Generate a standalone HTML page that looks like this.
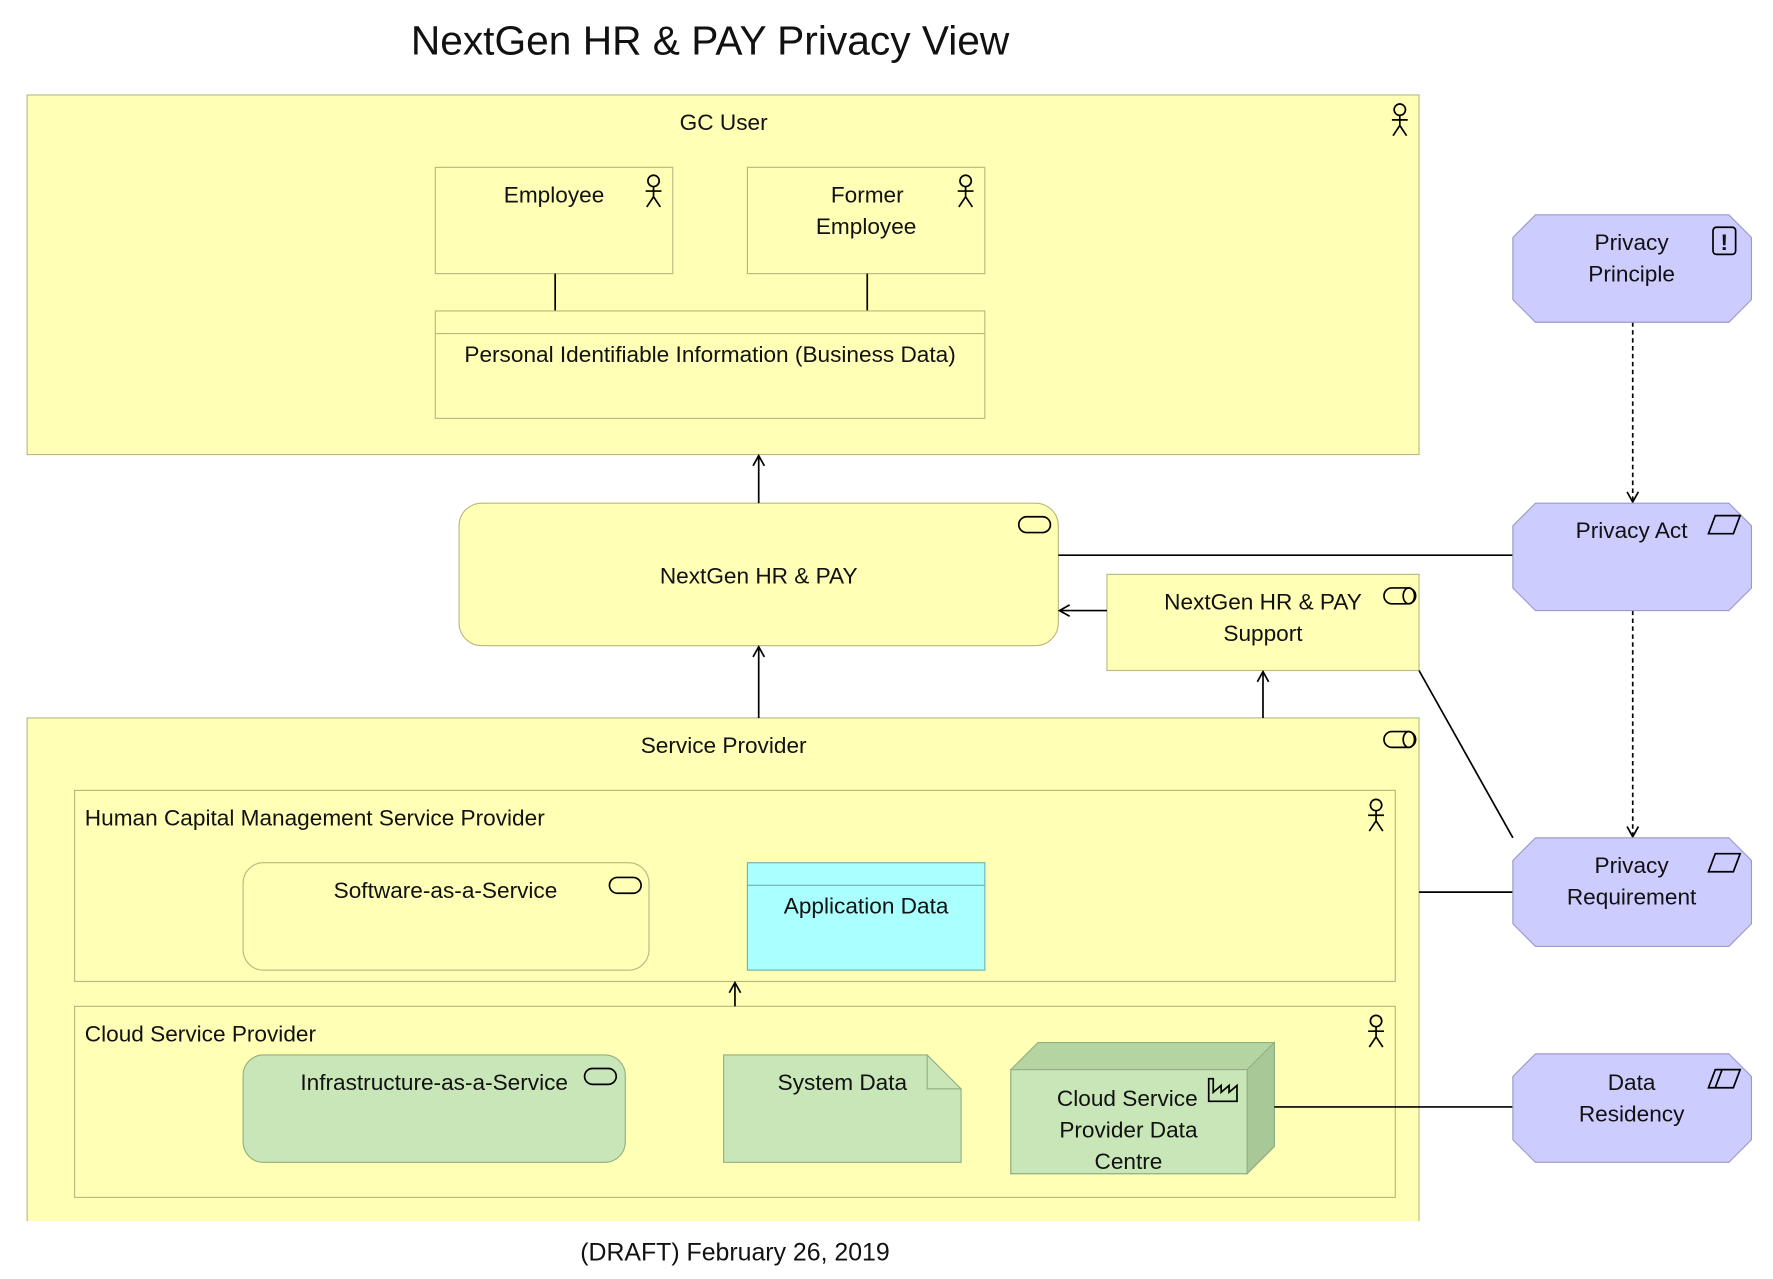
<!DOCTYPE html>
<html><head><meta charset="utf-8"><style>
html,body{margin:0;padding:0;background:#fff;width:1773px;height:1279px;overflow:hidden}
#c{width:1568px;height:1131px;transform:scale(1.1307);transform-origin:0 0}
text{font-family:"Liberation Sans","DejaVu Sans",sans-serif;font-size:20px;fill:#111}
</style></head><body><div id="c">
<svg width="1568" height="1131" viewBox="0 0 1568 1131" xmlns="http://www.w3.org/2000/svg">
<defs>
<marker id="a" markerWidth="12" markerHeight="12" refX="10" refY="6" orient="auto" markerUnits="userSpaceOnUse"><path d="M1,1 L10,6 L1,11" fill="none" stroke="#000" stroke-width="1.5"/></marker>
<g id="actor" fill="none" stroke="#000" stroke-width="1.5"><circle cx="0" cy="-8" r="5"/><path d="M0,-3 V6 M-7,1 H7 M-6,15 L0,6 L6,15"/></g>
<g id="svc" fill="none" stroke="#000" stroke-width="1.5"><rect x="-14" y="-7" width="28" height="14" rx="7"/></g>
<g id="iface" fill="none" stroke="#000" stroke-width="1.5"><rect x="-14" y="-7" width="28" height="14" rx="7"/><ellipse cx="8" cy="0" rx="5" ry="7"/></g>
</defs>
<text x="628" y="48" text-anchor="middle" style="font-size:36px">NextGen HR &amp; PAY Privacy View</text>
<!-- GC User -->
<rect x="24" y="84" width="1231" height="318" fill="#ffffb5" stroke="#b8b880"/>
<text x="640" y="115" text-anchor="middle">GC User</text>
<use href="#actor" x="1238" y="105"/>
<rect x="385" y="148" width="210" height="94" fill="#ffffb5" stroke="#b8b880"/>
<text x="490" y="179" text-anchor="middle">Employee</text>
<use href="#actor" x="578" y="168"/>
<rect x="661" y="148" width="210" height="94" fill="#ffffb5" stroke="#b8b880"/>
<text x="767" y="179" text-anchor="middle">Former</text>
<text x="766" y="207" text-anchor="middle">Employee</text>
<use href="#actor" x="854" y="168"/>
<path d="M491,242 V275 M767,242 V275" stroke="#000" stroke-width="1.5"/>
<rect x="385" y="275" width="486" height="95" fill="#ffffb5" stroke="#b8b880"/>
<line x1="385" y1="295" x2="871" y2="295" stroke="#b8b880"/>
<text x="628" y="320" text-anchor="middle">Personal Identifiable Information (Business Data)</text>
<!-- NextGen -->
<rect x="406" y="445" width="530" height="126" rx="20" fill="#ffffb5" stroke="#b8b880"/>
<text x="671" y="516" text-anchor="middle">NextGen HR &amp; PAY</text>
<use href="#svc" x="915" y="464"/>
<rect x="979" y="508" width="276" height="85" fill="#ffffb5" stroke="#b8b880"/>
<text x="1117" y="539" text-anchor="middle">NextGen HR &amp; PAY</text>
<text x="1117" y="567" text-anchor="middle">Support</text>
<use href="#iface" x="1238" y="527"/>
<!-- Service Provider -->
<path d="M24,1080 V635 H1255 V1080" fill="#ffffb5" stroke="#b8b880"/>
<text x="640" y="666" text-anchor="middle">Service Provider</text>
<use href="#iface" x="1238" y="654"/>
<rect x="66" y="699" width="1168" height="169" fill="#ffffb5" stroke="#b8b880"/>
<text x="75" y="730">Human Capital Management Service Provider</text>
<use href="#actor" x="1217" y="720"/>
<rect x="215" y="763" width="359" height="95" rx="18" fill="#ffffb5" stroke="#b8b880"/>
<text x="394" y="794" text-anchor="middle">Software-as-a-Service</text>
<use href="#svc" x="553" y="783"/>
<rect x="661" y="763" width="210" height="95" fill="#aaffff" stroke="#70b0b0"/>
<line x1="661" y1="783" x2="871" y2="783" stroke="#70b0b0"/>
<text x="766" y="808" text-anchor="middle">Application Data</text>
<rect x="66" y="890" width="1168" height="169" fill="#ffffb5" stroke="#b8b880"/>
<text x="75" y="921">Cloud Service Provider</text>
<use href="#actor" x="1217" y="911"/>
<rect x="215" y="933" width="338" height="95" rx="18" fill="#c8e6b8" stroke="#90b080"/>
<text x="384" y="964" text-anchor="middle">Infrastructure-as-a-Service</text>
<use href="#svc" x="531" y="952"/>
<path d="M640,933 H820 L850,963 V1028 H640 Z" fill="#c8e6b8" stroke="#90b080"/>
<path d="M820,933 V963 H850" fill="none" stroke="#90b080"/>
<text x="745" y="964" text-anchor="middle">System Data</text>
<path d="M894,946 L918,922 H1127 V1014 L1103,1038 H894 Z" fill="#b4d4a2" stroke="#90b080"/>
<path d="M1103,946 L1127,922 V1014 L1103,1038 Z" fill="#a8c898" stroke="#90b080"/>
<rect x="894" y="946" width="209" height="92" fill="#c8e6b8" stroke="#90b080"/>
<text x="997" y="978" text-anchor="middle">Cloud Service</text>
<text x="998" y="1006" text-anchor="middle">Provider Data</text>
<text x="998" y="1034" text-anchor="middle">Centre</text>
<path d="M1069,974 V954 L1073,954 V966 L1080,960 V966 L1087,960 V966 L1094,960 V974 Z" fill="none" stroke="#000" stroke-width="1.5"/>
<!-- arrows -->
<g stroke="#000" stroke-width="1.5" fill="none">
<line x1="671" y1="445" x2="671" y2="403" marker-end="url(#a)"/>
<line x1="979" y1="540" x2="937" y2="540" marker-end="url(#a)"/>
<line x1="671" y1="635" x2="671" y2="572" marker-end="url(#a)"/>
<line x1="1117" y1="635" x2="1117" y2="594" marker-end="url(#a)"/>
<line x1="650" y1="890" x2="650" y2="869" marker-end="url(#a)"/>
<line x1="1444" y1="285" x2="1444" y2="444" stroke-dasharray="4,3" marker-end="url(#a)"/>
<line x1="1444" y1="540" x2="1444" y2="740" stroke-dasharray="4,3" marker-end="url(#a)"/>
<line x1="936" y1="491" x2="1338" y2="491"/>
<line x1="1255" y1="593" x2="1338" y2="741"/>
<line x1="1255" y1="789" x2="1338" y2="789"/>
<line x1="1127" y1="979" x2="1338" y2="979"/>
</g>
<!-- purple -->
<g fill="#ccccff" stroke="#9999cc">
<path d="M1358,190 H1529 L1549,210 V265 L1529,285 H1358 L1338,265 V210 Z"/>
<path d="M1358,445 H1529 L1549,465 V520 L1529,540 H1358 L1338,520 V465 Z"/>
<path d="M1358,741 H1529 L1549,761 V817 L1529,837 H1358 L1338,817 V761 Z"/>
<path d="M1358,932 H1529 L1549,952 V1008 L1529,1028 H1358 L1338,1008 V952 Z"/>
</g>
<text x="1443" y="221" text-anchor="middle">Privacy</text>
<text x="1443" y="249" text-anchor="middle">Principle</text>
<rect x="1515" y="201" width="20" height="24" rx="3" fill="none" stroke="#000" stroke-width="1.5"/>
<text x="1525" y="221" text-anchor="middle" style="font-weight:bold">!</text>
<text x="1443" y="476" text-anchor="middle">Privacy Act</text>
<path d="M1517,456 H1539 L1533,472 H1511 Z" fill="none" stroke="#000" stroke-width="1.5"/>
<text x="1443" y="772" text-anchor="middle">Privacy</text>
<text x="1443" y="800" text-anchor="middle">Requirement</text>
<path d="M1517,755 H1539 L1533,771 H1511 Z" fill="none" stroke="#000" stroke-width="1.5"/>
<text x="1443" y="964" text-anchor="middle">Data</text>
<text x="1443" y="992" text-anchor="middle">Residency</text>
<path d="M1517,946 H1539 L1533,962 H1511 Z M1523,946 L1517,962" fill="none" stroke="#000" stroke-width="1.5"/>
<text x="650" y="1115" text-anchor="middle" style="font-size:22px">(DRAFT) February 26, 2019</text>
</svg></div></body></html>
